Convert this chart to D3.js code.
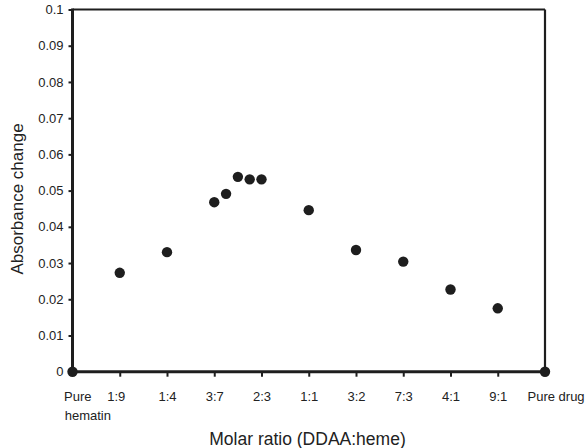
<!DOCTYPE html>
<html>
<head>
<meta charset="utf-8">
<script src="https://cdn.jsdelivr.net/npm/d3@7"></script>
<style>
  html, body { margin: 0; padding: 0; background: #fff; }
  svg { display: block; font-family: "Liberation Sans", Arial, sans-serif; }
</style>
</head>
<body>
<svg id="chart" width="587" height="448"></svg>
<script>
// Data
const moleFraction = [0, 0.1, 0.2, 0.3, 0.325, 0.35, 0.375, 0.4, 0.5, 0.6, 0.7, 0.8, 0.9, 1.0];
const absorbanceChange = [0, 0.0273, 0.0330, 0.0468, 0.0491, 0.0538, 0.0531, 0.0531, 0.0446, 0.0336, 0.0304, 0.0227, 0.0175, 0];
const xTickValues = [0, 0.1, 0.2, 0.3, 0.4, 0.5, 0.6, 0.7, 0.8, 0.9, 1.0];
const xTickLabels = ["Pure|hematin", "1:9", "1:4", "3:7", "2:3", "1:1", "3:2", "7:3", "4:1", "9:1", "Pure drug"];
const yTickValues = [0, 0.01, 0.02, 0.03, 0.04, 0.05, 0.06, 0.07, 0.08, 0.09, 0.1];
const yTickLabels = ["0", "0.01", "0.02", "0.03", "0.04", "0.05", "0.06", "0.07", "0.08", "0.09", "0.1"];

const svg = d3.select("#chart");
const ink = "#1e1e1e";
const pLeft = 72.5, pRight = 545, pTop = 9.5, pBottom = 371.7;

const x = d3.scaleLinear().domain([0, 1]).range([pLeft, pRight]);
const y = d3.scaleLinear().domain([0, 0.1]).range([pBottom, pTop]);

// Frame (top/right thin)
svg.append("line").attr("x1", pLeft).attr("x2", pRight).attr("y1", pTop).attr("y2", pTop)
  .attr("stroke", ink).attr("stroke-width", 2.2);
svg.append("line").attr("x1", pRight).attr("x2", pRight).attr("y1", pTop).attr("y2", pBottom)
  .attr("stroke", ink).attr("stroke-width", 2.2);

// Y axis
const yAxis = d3.axisLeft(y).tickValues(yTickValues)
  .tickFormat((d, i) => yTickLabels[i]).tickSize(4).tickPadding(5);
const gy = svg.append("g").attr("transform", `translate(${pLeft},0)`).call(yAxis);
gy.select(".domain").attr("stroke", ink).attr("stroke-width", 3).attr("d", `M0,${pTop - 1}V${pBottom + 1.5}`);
gy.selectAll(".tick line").attr("stroke", ink).attr("stroke-width", 2);
gy.selectAll(".tick text").attr("fill", "#222").style("font-size", "13px")
  .style("font-family", "Liberation Sans, Arial, sans-serif");

// X axis
const xAxis = d3.axisBottom(x).tickValues(xTickValues)
  .tickFormat((d, i) => xTickLabels[i]).tickSize(5).tickPadding(15);
const gx = svg.append("g").attr("transform", `translate(0,${pBottom})`).call(xAxis);
gx.select(".domain").attr("stroke", ink).attr("stroke-width", 3).attr("d", `M${pLeft - 1.5},0H${pRight}`);
gx.selectAll(".tick line").attr("stroke", ink).attr("stroke-width", 2)
  .attr("display", (d) => (d === 0 || d === 1) ? "none" : null);
gx.selectAll(".tick text").attr("fill", "#222").style("font-size", "13px")
  .style("font-family", "Liberation Sans, Arial, sans-serif")
  .each(function (d, i) {
    const t = d3.select(this);
    const label = xTickLabels[i];
    if (label.includes("|")) {
      const parts = label.split("|");
      t.text(null).attr("text-anchor", "start").attr("x", -9);
      parts.forEach((p, k) => {
        t.append("tspan").attr("x", -9 + (k ? 0.7 : 0)).attr("dy", k ? "1.45em" : "0.71em").text(p);
      });
    } else if (d === 1) {
      t.attr("text-anchor", "start").attr("x", -18);
    } else if (i === 1) {
      t.attr("x", -4);
    }
  });

// Points
svg.append("g").selectAll("circle")
  .data(moleFraction.map((v, i) => [v, absorbanceChange[i]]))
  .join("circle")
  .attr("cx", d => x(d[0]))
  .attr("cy", d => y(d[1]))
  .attr("r", 5.2)
  .attr("fill", ink);

// Axis titles
svg.append("text")
  .attr("x", 307.5).attr("y", 444.5)
  .attr("text-anchor", "middle")
  .attr("fill", "#222")
  .style("font-size", "17.5px")
  .text("Molar ratio (DDAA:heme)");

svg.append("text")
  .attr("transform", "translate(23,199) rotate(-90)")
  .attr("text-anchor", "middle")
  .attr("fill", "#222")
  .style("font-size", "17px")
  .text("Absorbance change");
</script>
</body>
</html>
